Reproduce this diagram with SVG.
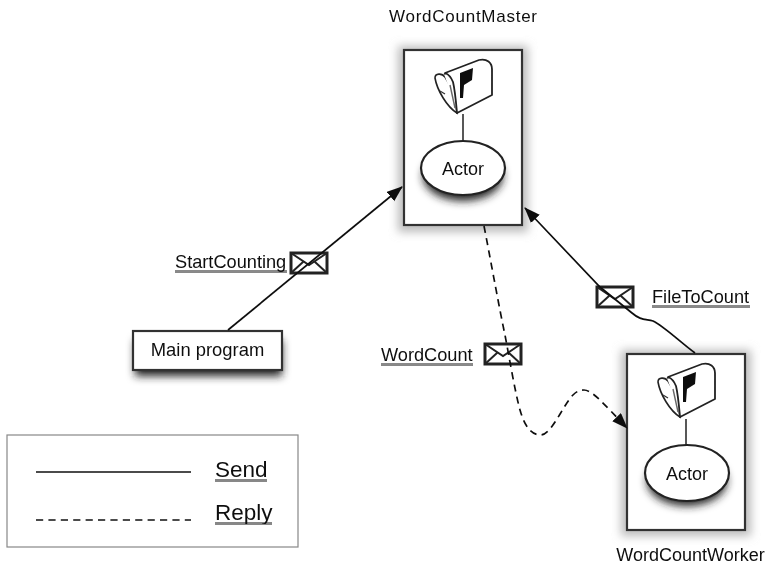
<svg xmlns="http://www.w3.org/2000/svg" width="769" height="565" viewBox="0 0 769 565">
<style>
text{font-family:"Liberation Sans",Arial,sans-serif;fill:#111}
.lbl{font-size:18.2px}
.box{fill:#fff;stroke:#333;stroke-width:2.2}
.ell{fill:#fff;stroke:#222;stroke-width:2.2}
.stem{stroke:#222;stroke-width:1.5;fill:none}
.conn{fill:none;stroke:#111;stroke-width:1.7}
.dash{stroke-dasharray:7.2 5.2}
.env{fill:#fff;stroke:#222;stroke-width:3}
.env2{fill:none;stroke:#222;stroke-width:2}
.ul{stroke:#111;stroke-width:1.2}
.ug{stroke:#888;stroke-width:1.2}
</style>
<defs>
<filter id="soft" filterUnits="userSpaceOnUse" x="0" y="0" width="769" height="565"><feGaussianBlur stdDeviation="0.45"/></filter>
<filter id="glow" x="-20%" y="-20%" width="140%" height="140%"><feGaussianBlur stdDeviation="5"/></filter>
<filter id="sh" x="-20%" y="-30%" width="140%" height="180%"><feGaussianBlur stdDeviation="4"/></filter>
<marker id="arr" markerWidth="18" markerHeight="14" refX="15" refY="6" orient="auto" markerUnits="userSpaceOnUse"><path d="M0 0L16 6L0 12Z" fill="#111"/></marker>
<g id="mailbox">
<path d="M0 18C0 13 7 13 10 17C17 27 21 42 22 53C12 47 2 30 0 18Z" fill="#fff" stroke="#222" stroke-width="1.6"/>
<path d="M9 14C15 12 19 17 21 25L23 53" fill="#fff" stroke="#222" stroke-width="1.6"/>
<path d="M10 13L44 0C52 -2 57 3 57 9L57 35L22 53C21 42 20 30 18 22C16 17 13 14 10 13Z" fill="#fff" stroke="#222" stroke-width="1.8" stroke-linejoin="round"/>
<path d="M25 13L38 8L37 20L29 25L28 38L25 38Z" fill="#111"/>
<path d="M5 31L10 34" stroke="#333" stroke-width="1.2" fill="none"/>
<path d="M15 25L20 48" stroke="#666" stroke-width="1.4" fill="none"/>
</g>
<g id="envelope">
<rect x="0" y="0" width="36" height="20" class="env"/>
<path d="M0 0L18 12L36 0M0 20L12 9M36 20L24 9" class="env2"/>
</g>
</defs>

<g filter="url(#soft)">
<g id="master">
<rect x="398" y="46" width="130" height="186" fill="#bbb" filter="url(#glow)"/>
<rect class="box" x="404" y="50" width="118" height="175"/>
<rect x="414" y="62" width="98" height="152" fill="#fff" filter="url(#glow)" opacity="0.9"/>
<use href="#mailbox" x="435" y="60"/>
<line class="stem" x1="463" y1="114" x2="463" y2="141"/>
<ellipse cx="463" cy="176" rx="40" ry="25" fill="#222" filter="url(#sh)"/>
<ellipse class="ell" cx="463" cy="168" rx="42" ry="27"/>
<text x="463" y="175" font-size="18" text-anchor="middle">Actor</text>
<text x="463" y="22" font-size="17" textLength="148" lengthAdjust="spacing" text-anchor="middle">WordCountMaster</text>
</g>

<g id="worker">
<rect x="621" y="350" width="130" height="186" fill="#bbb" filter="url(#glow)"/>
<rect class="box" x="627" y="354" width="118" height="176"/>
<rect x="637" y="366" width="98" height="152" fill="#fff" filter="url(#glow)" opacity="0.9"/>
<use href="#mailbox" x="658" y="364"/>
<line class="stem" x1="686" y1="419" x2="686" y2="445"/>
<ellipse cx="687" cy="481" rx="40" ry="25" fill="#222" filter="url(#sh)"/>
<ellipse class="ell" cx="687" cy="473" rx="42" ry="28"/>
<text x="687" y="480" font-size="18" text-anchor="middle">Actor</text>
<text x="690.500" y="561" font-size="18" text-anchor="middle">WordCountWorker</text>
</g>

<g id="main">
<rect x="135" y="340" width="147" height="36" fill="#222" filter="url(#sh)"/>
<rect class="box" x="133" y="331" width="149" height="39"/>
<text x="207.500" y="356" font-size="18.400" text-anchor="middle">Main program</text>
</g>

<g id="msg-start">
<use href="#envelope" x="291" y="253"/>
<text x="175" y="268" class="lbl">StartCounting</text>
<line class="ul" x1="175" y1="271" x2="287" y2="271"/>
<line class="ug" x1="175" y1="272.500" x2="287" y2="272.500"/>
</g>

<g id="msg-file">
<use href="#envelope" x="597" y="287"/>
<text x="652" y="303" class="lbl">FileToCount</text>
<line class="ul" x1="652" y1="306" x2="750" y2="306"/>
<line class="ug" x1="652" y1="307.500" x2="750" y2="307.500"/>
</g>

<g id="msg-count">
<use href="#envelope" x="485" y="344"/>
<text x="381" y="361" class="lbl">WordCount</text>
<line class="ul" x1="381" y1="364" x2="473" y2="364"/>
<line class="ug" x1="381" y1="365.500" x2="473" y2="365.500"/>
</g>

<g id="connectors">
<path class="conn" d="M228 330L402 187" marker-end="url(#arr)"/>
<path class="conn" d="M695 353C680 342 665 327 653 321C645 319 640 320 632 313L600 287L525 208" marker-end="url(#arr)"/>
<path class="conn dash" d="M484 226C491 262 500 312 505 335C509 356 515 392 520 410C524 424 530 435 541 435C552 434 563 405 573 395C577 391 580 390 584 390C592 390 603 403 627 428" marker-end="url(#arr)"/>
</g>

<g id="legend">
<rect x="7" y="435" width="291" height="112" fill="#fff" stroke="#888" stroke-width="1.2"/>
<line class="conn" x1="36" y1="472" x2="191" y2="472"/>
<line class="conn dash" x1="36" y1="520" x2="191" y2="520"/>
<text x="215" y="477" font-size="22.500">Send</text>
<line class="ul" x1="215" y1="480" x2="267" y2="480"/>
<line class="ug" x1="215" y1="481.500" x2="267" y2="481.500"/>
<text x="215" y="520" font-size="22.500">Reply</text>
<line class="ul" x1="215" y1="523" x2="272" y2="523"/>
<line class="ug" x1="215" y1="524.500" x2="272" y2="524.500"/>
</g>
</g>
</svg>
